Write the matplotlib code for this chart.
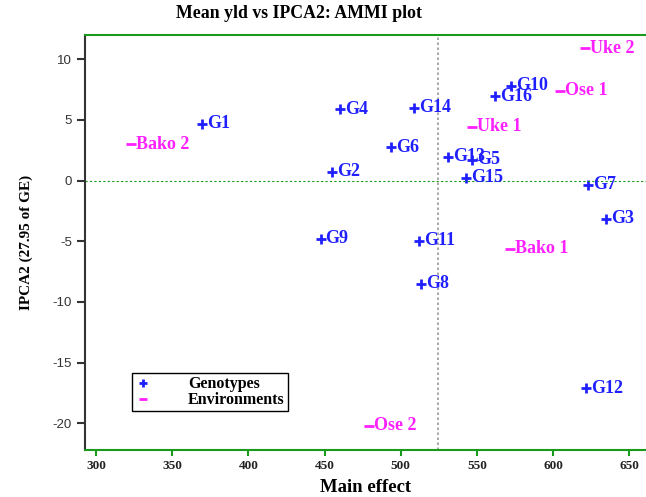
import matplotlib
matplotlib.use("Agg")
import matplotlib.pyplot as plt
from matplotlib.lines import Line2D

# genotype scores (main effect, IPCA2)
gen_names = ["G1", "G2", "G3", "G4", "G5", "G6", "G7", "G8", "G9", "G10",
             "G11", "G12", "G13", "G14", "G15", "G16"]
gen_x = [369.6, 455.0, 634.6, 460.2, 547.0, 493.5, 623.0, 513.4, 447.5, 572.5,
         512.0, 621.5, 531.0, 508.8, 543.0, 562.0]
gen_y = [4.7, 0.74, -3.13, 5.9, 1.73, 2.75, -0.36, -8.5, -4.8, 7.8,
         -4.95, -17.1, 1.98, 6.0, 0.22, 6.95]

# environment scores
env_names = ["Bako 1", "Bako 2", "Ose 1", "Ose 2", "Uke 1", "Uke 2"]
env_x = [571.8, 323.0, 604.6, 479.5, 547.0, 621.0]
env_y = [-5.6, 3.0, 7.4, -20.2, 4.45, 10.9]

grand_mean = 524.6

xticks = [300, 350, 400, 450, 500, 550, 600, 650]
yticks = [10, 5, 0, -5, -10, -15, -20]

plt.rcParams['font.family'] = ['Liberation Serif', 'DejaVu Serif']
plt.rcParams['font.weight'] = 'bold'
plt.rcParams['axes.unicode_minus'] = False

blue = '#2020ff'
pink = '#ff20ff'
green = '#1a9a1a'

fig = plt.figure(figsize=(6.46, 4.97), dpi=100)
ax = fig.add_axes([0.1316, 0.0946, 0.8684, 0.835])

ax.plot(gen_x, gen_y, linestyle='none', marker='+', color=blue,
        markersize=6.5, markeredgewidth=2)
for n, x, y in zip(gen_names, gen_x, gen_y):
    ax.annotate(n, (x, y), xytext=(3.5, 0), textcoords='offset points',
                va='center', ha='left', color=blue, fontsize=13, fontweight='bold')

ax.plot(env_x, env_y, linestyle='none', marker='_', color=pink,
        markersize=6.5, markeredgewidth=2)
for n, x, y in zip(env_names, env_x, env_y):
    ax.annotate(n, (x, y), xytext=(3.5, 0), textcoords='offset points',
                va='center', ha='left', color=pink, fontsize=13, fontweight='bold')

# reference lines: zero interaction and grand mean
ax.axhline(0, color=green, linestyle=(0, (2, 2)), linewidth=0.8)
ax.axvline(grand_mean, color='#999999', linestyle=(0, (1.5, 1.5)), linewidth=1.2)

ax.set_xlim(292.8, 661)
ax.set_ylim(-22.2, 12.0)
ax.set_xticks(xticks)
ax.set_yticks(yticks)
ax.set_yticklabels([str(v) for v in yticks], family='Liberation Sans', fontweight='normal')

ax.spines['right'].set_visible(False)
ax.spines['top'].set_color(green)
ax.spines['bottom'].set_color(green)
ax.spines['top'].set_linewidth(1.5)
ax.spines['bottom'].set_linewidth(1.5)
ax.spines['left'].set_color('#333333')
ax.spines['left'].set_linewidth(1.5)
ax.tick_params(axis='x', colors=green, labelcolor='#222222', width=1.5, length=4,
               labelsize=9.5)
ax.tick_params(axis='y', color='#333333', labelcolor='#333333', width=1.5, length=6,
               labelsize=9.5)

ax.set_xlabel('Main effect', fontsize=13.5, fontweight='bold', labelpad=5)
ax.set_ylabel('IPCA2 (27.95 of GE)', fontsize=11, fontweight='bold', labelpad=14)
fig.text(0.463, 0.972, 'Mean yld vs IPCA2: AMMI plot', ha='center', va='center',
         fontsize=12.8, fontweight='bold')

handles = [Line2D([], [], linestyle='none', marker='+', color=blue, markersize=6,
                  markeredgewidth=2),
           Line2D([], [], linestyle='none', marker='_', color=pink, markersize=6,
                  markeredgewidth=2)]
leg = ax.legend(handles, ['Genotypes', 'Environments'], loc='lower left',
                bbox_to_anchor=(0.0838, 0.093), borderaxespad=0, fancybox=False,
                framealpha=1, edgecolor='black', fontsize=11.5, borderpad=0.2,
                labelspacing=0.0, handletextpad=2.3, handlelength=1.0)
leg.get_frame().set_linewidth(1.0)

fig.savefig('out.png', dpi=100)
